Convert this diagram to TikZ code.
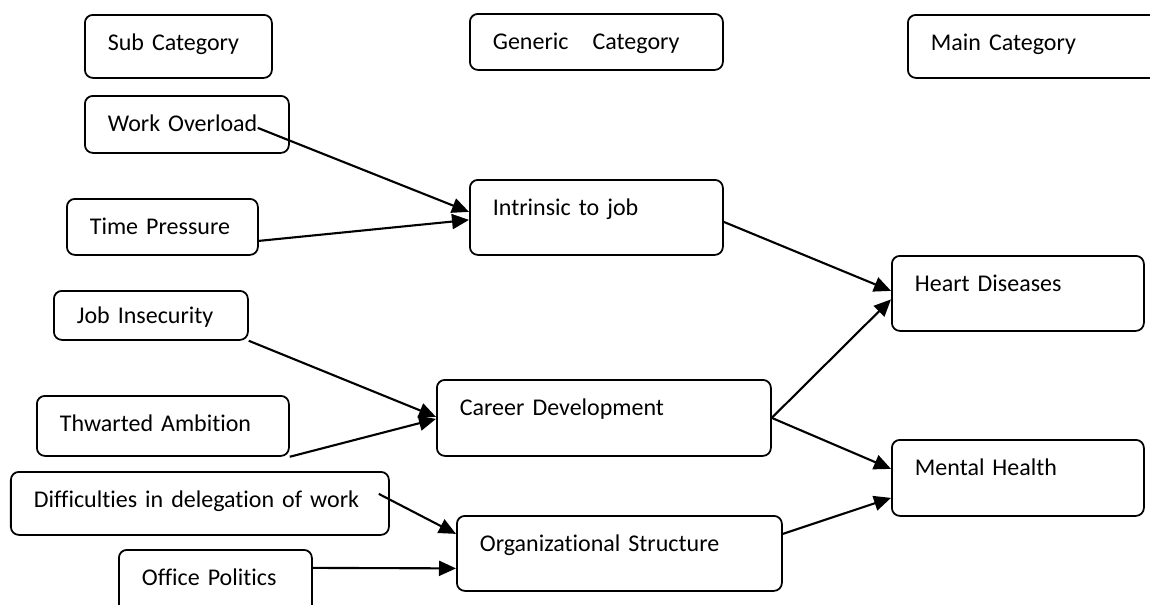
\documentclass[tikz,border=0pt]{standalone}
\usepackage{fontspec}
\setmainfont{Carlito}[Ligatures=NoCommon]
\usetikzlibrary{arrows.meta}

\begin{document}
\begin{tikzpicture}[
    cat/.style 2 args={draw, line width=1pt, rounded corners=0.16cm, anchor=north west,
      inner xsep=0.46cm, inner ysep=0pt, align=left, text width=#1, text height=0.72cm,
      text depth=#2, font=\fontsize{13.66pt}{16pt}\selectfont},
    link/.style={-{Triangle[length=0.34cm,width=0.3cm]}, line width=1.2pt}
  ]
    % Page frame, boxes on the right and bottom run off it
    \useasboundingbox (0,0) rectangle (23,-12.08);
    \clip (0,0) rectangle (23,-12.08);

    % Column headings
    \node[cat={2.82cm}{0.54cm}] (sub) at (1.68,-0.28) {Sub Category};
    \node[cat={4.14cm}{0.40cm}] (generic) at (9.38,-0.26) {Generic~~ Category};
    \node[cat={4.12cm}{0.54cm}] (main) at (18.14,-0.28) {Main Category};

    % Sub categories
    \node[cat={3.16cm}{0.42cm}] (overload) at (1.68,-1.90) {Work Overload};
    \node[cat={2.90cm}{0.40cm}] (pressure) at (1.32,-3.96) {Time Pressure};
    \node[cat={2.96cm}{0.32cm}, text height=0.66cm] (insecurity) at (1.06,-5.80) {Job Insecurity};
    \node[cat={4.12cm}{0.48cm}] (thwarted) at (0.72,-7.90) {Thwarted Ambition};
    \node[cat={6.64cm}{0.54cm}] (delegation) at (0.20,-9.42) {Difficulties in delegation of work};
    \node[cat={2.94cm}{0.78cm}] (politics) at (2.36,-10.98) {Office Politics};

    % Generic categories
    \node[cat={4.14cm}{0.78cm}] (intrinsic) at (9.38,-3.58) {Intrinsic to job};
    \node[cat={5.76cm}{0.80cm}] (career) at (8.72,-7.58) {Career Development};
    \node[cat={5.58cm}{0.78cm}] (structure) at (9.12,-10.30) {Organizational Structure};

    % Main categories
    \node[cat={4.12cm}{0.78cm}] (heart) at (17.82,-5.10) {Heart Diseases};
    \node[cat={4.12cm}{0.80cm}] (mental) at (17.82,-8.78) {Mental Health};

    % Sub -> generic
    \draw[link] ([shift={(-0.64,0.08)}]overload.base east) -- ([yshift=0.11cm]intrinsic.west);
    \draw[link] ([yshift=-0.28cm]pressure.east) -- ([yshift=-0.05cm]intrinsic.west);
    \draw[link] (insecurity.south east) -- ([yshift=0.02cm]career.west);
    \draw[link] (thwarted.south east) -- ([yshift=-0.02cm]career.west);
    \draw[link] ([shift={(-0.22,0.19)}]delegation.east) -- ([yshift=0.39cm]structure.west);
    \draw[link] ([yshift=0.39cm]politics.east) -- ([yshift=-0.30cm]structure.west);

    % Generic -> main
    \draw[link] ([yshift=-0.09cm]intrinsic.east) -- ([yshift=0.05cm]heart.west);
    \draw[link] (career.east) -- ([yshift=-0.12cm]heart.west);
    \draw[link] (career.east) -- ([yshift=0.18cm]mental.west);
    \draw[link] ([yshift=0.39cm]structure.east) -- ([yshift=-0.40cm]mental.west);
\end{tikzpicture}
\end{document}
